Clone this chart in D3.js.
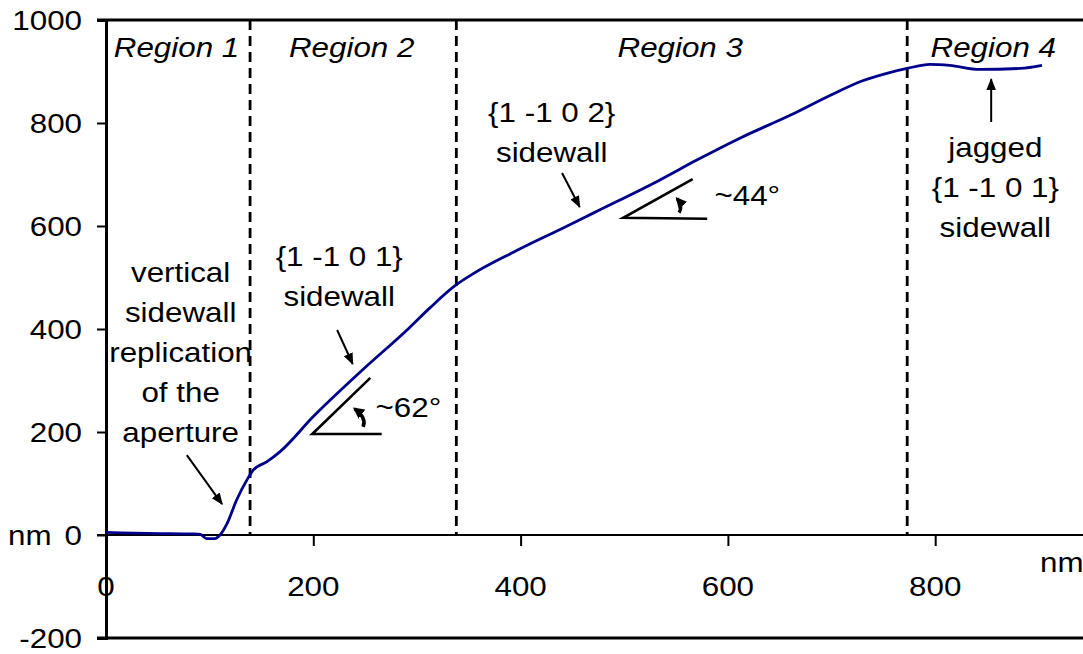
<!DOCTYPE html>
<html>
<head>
<meta charset="utf-8">
<script src="https://cdn.jsdelivr.net/npm/d3@7"></script>
<style>
  body { margin: 0; background: #fff; }
  text { font-family: "Liberation Sans", Arial, sans-serif; fill: #000; }
</style>
</head>
<body>
<svg id="profile" width="1083" height="654"></svg>
<script>
// profile data (nm)
var xs = [0, 15, 40, 85, 91, 97, 105, 110, 117, 126, 136, 142, 155, 168, 200, 245, 293, 313, 338, 354, 393, 445, 470, 534, 570, 612, 660, 700, 730, 756, 773, 795, 814, 843, 882, 903];
var ys = [5, 4, 3, 2, 1, -7, -7, 0, 23, 68, 107, 126, 142, 162, 230, 316, 403, 442, 486, 507, 549, 600, 625, 689, 728, 771, 815, 855, 882, 898, 906, 914, 912, 904, 906, 912];

var x_ticks = [0, 200, 400, 600, 800];
var y_ticks = [-200, 0, 200, 400, 600, 800, 1000];
var region_bounds = [139, 338, 773];
var region_names = ["Region 1", "Region 2", "Region 3", "Region 4"];
var region_centers = [68, 237, 554, 856];

// annotation text blocks: x,y in data units (first baseline)
var notes = [
  {x: 72, y: 491, lines: ["vertical", "sidewall", "replication", "of the", "aperture"]},
  {x: 225, y: 522, lines: ["{1 -1 0 1}", "sidewall"]},
  {x: 430, y: 802, lines: ["{1 -1 0 2}", "sidewall"]},
  {x: 858, y: 734, lines: ["jagged", "{1 -1 0 1}", "sidewall"]}
];
var arrows = [
  [[78, 155], [112, 60]],
  [[223, 398], [238, 332]],
  [[440, 703], [457, 637]],
  [[854, 802], [854, 885]]
];
// angle wedges: vertex, upper end, horizontal end
var wedges = [
  {pts: [[255, 305], [199, 196], [266, 196]], label: "~62\u00b0", lx: 260, ly: 229, arc: [[248, 210], [240, 245]]},
  {pts: [[566, 691], [499, 616], [580, 614]], label: "~44\u00b0", lx: 587, ly: 641, arc: [[553, 626], [551, 653]]}
];

var svg = d3.select("#profile");
var x = d3.scaleLinear().domain([0, 1000]).range([106, 1142.5]);
var y = d3.scaleLinear().domain([-200, 1000]).range([638, 20]);
var fs = 28.5;

function put_text(g, txt, px, py, anchor, italic){
    return g.append("text")
        .attr("transform", "translate(" + px + "," + py + ") scale(1.1,1)")
        .attr("text-anchor", anchor)
        .style("font-size", fs + "px")
        .style("font-style", italic ? "italic" : "normal")
        .text(txt);
}

var defs = svg.append("defs");
defs.append("marker")
    .attr("id", "head")
    .attr("viewBox", "0 0 10 10")
    .attr("refX", 9).attr("refY", 5)
    .attr("markerWidth", 6).attr("markerHeight", 6)
    .attr("markerUnits", "strokeWidth")
    .attr("orient", "auto")
  .append("path")
    .attr("d", "M0,1 L10,5 L0,9 z")
    .attr("fill", "#000");
defs.append("marker")
    .attr("id", "head2")
    .attr("viewBox", "0 0 10 10")
    .attr("refX", 8).attr("refY", 5)
    .attr("markerWidth", 3.2).attr("markerHeight", 3.2)
    .attr("markerUnits", "strokeWidth")
    .attr("orient", "auto")
  .append("path")
    .attr("d", "M0,0 L10,5 L0,10 z")
    .attr("fill", "#000");

// frame lines top/bottom
[1000, -200].forEach(function(v){
    svg.append("line")
        .attr("x1", 97).attr("x2", 1083)
        .attr("y1", y(v)).attr("y2", y(v))
        .attr("stroke", "#000").attr("stroke-width", 3);
});

// y axis
var yAxis = svg.append("g")
    .attr("transform", "translate(" + x(0) + ",0)")
    .call(d3.axisLeft(y).tickValues(y_ticks).tickSize(9).tickFormat(""));
yAxis.select(".domain").attr("stroke-width", 3);
yAxis.selectAll(".tick line").attr("stroke-width", 2);
y_ticks.forEach(function(v){
    put_text(svg, String(v), 82, y(v) + 10, "end");
});
put_text(svg, "nm", 8, y(0) + 10, "start");

// x axis at zero
var xAxis = svg.append("g")
    .attr("transform", "translate(0," + y(0) + ")")
    .call(d3.axisBottom(x).tickValues(x_ticks.slice(1)).tickSize(11).tickSizeOuter(0).tickFormat(""));
xAxis.select(".domain").attr("d", "M" + 97 + ",0H1083").attr("stroke-width", 2.2);
xAxis.selectAll(".tick line").attr("stroke-width", 2);
x_ticks.forEach(function(v){
    put_text(svg, String(v), x(v), 596, "middle");
});
put_text(svg, "nm", 1040, 572, "start");

// region separators
svg.selectAll(".sep")
    .data(region_bounds)
    .enter().append("line")
    .attr("class", "sep")
    .attr("x1", function(d){ return x(d); })
    .attr("x2", function(d){ return x(d); })
    .attr("y1", y(1000)).attr("y2", y(0))
    .attr("stroke", "#000")
    .attr("stroke-width", 2.8)
    .attr("stroke-dasharray", "10,6");

region_names.forEach(function(r, i){
    put_text(svg, r, x(region_centers[i]), y(928), "middle", true);
});

// profile curve
var pts = xs.map(function(d, i){ return [d, ys[i]]; });
var line = d3.line()
    .x(function(d){ return x(d[0]); })
    .y(function(d){ return y(d[1]); })
    .curve(d3.curveMonotoneX);
svg.append("path")
    .attr("d", line(pts))
    .attr("fill", "none")
    .attr("stroke", "#00008b")
    .attr("stroke-width", 2.8);

// notes
notes.forEach(function(n){
    n.lines.forEach(function(t, k){
        put_text(svg, t, x(n.x), y(n.y) + k * 40, "middle");
    });
});

arrows.forEach(function(a){
    svg.append("line")
        .attr("x1", x(a[0][0])).attr("y1", y(a[0][1]))
        .attr("x2", x(a[1][0])).attr("y2", y(a[1][1]))
        .attr("stroke", "#000").attr("stroke-width", 2)
        .attr("marker-end", "url(#head)");
});

wedges.forEach(function(w){
    svg.append("path")
        .attr("d", d3.line().x(function(d){ return x(d[0]); }).y(function(d){ return y(d[1]); })(w.pts))
        .attr("fill", "none")
        .attr("stroke", "#000").attr("stroke-width", 2.6);
    var a0 = [x(w.arc[0][0]), y(w.arc[0][1])];
    var a1 = [x(w.arc[1][0]), y(w.arc[1][1])];
    svg.append("path")
        .attr("d", "M" + a0[0] + "," + a0[1] + " Q" + (a0[0] + 4) + "," + ((a0[1] + a1[1]) / 2) + " " + a1[0] + "," + a1[1])
        .attr("fill", "none")
        .attr("stroke", "#000").attr("stroke-width", 3.5)
        .attr("marker-end", "url(#head2)");
    put_text(svg, w.label, x(w.lx), y(w.ly), "start");
});
</script>
</body>
</html>
